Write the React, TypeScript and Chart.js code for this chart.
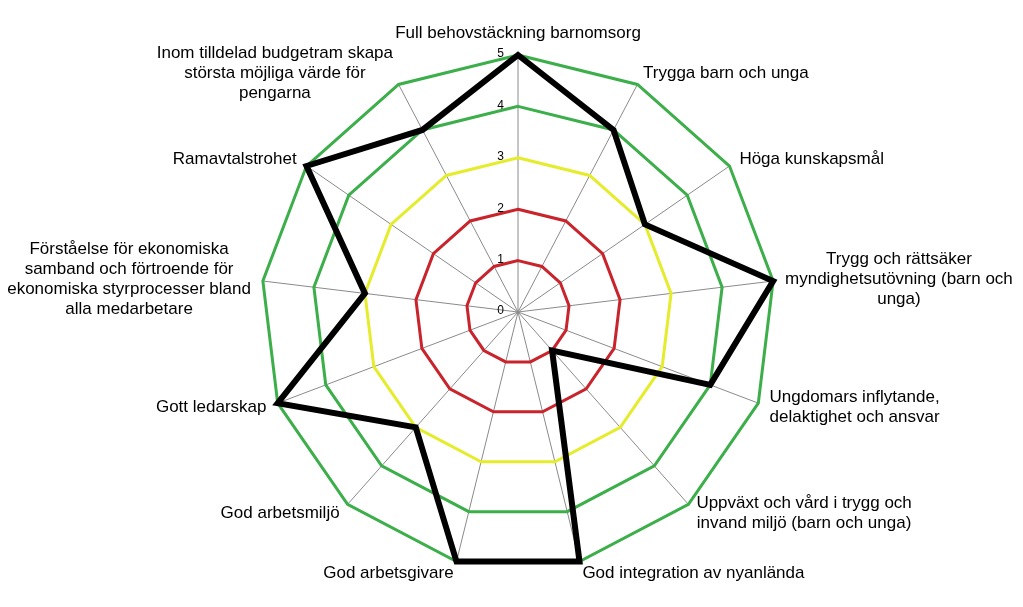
import React, { useEffect, useRef } from "react";
import { Chart, registerables } from "chart.js";

Chart.register(...registerables);

// Category labels (line breaks as in the reference)
const categories: string[][] = [
  ["Full behovstäckning barnomsorg"],
  ["Trygga barn och unga"],
  ["Höga kunskapsmål"],
  ["Trygg och rättsäker", "myndighetsutövning (barn och", "unga)"],
  ["Ungdomars inflytande,", "delaktighet och ansvar"],
  ["Uppväxt och vård i trygg och", "invand miljö (barn och unga)"],
  ["God integration av nyanlända"],
  ["God arbetsgivare"],
  ["God arbetsmiljö"],
  ["Gott ledarskap"],
  ["Förståelse för ekonomiska", "samband och förtroende för", "ekonomiska styrprocesser bland", "alla medarbetare"],
  ["Ramavtalstrohet"],
  ["Inom tilldelad budgetram skapa", "största möjliga värde för", "pengarna"],
];

// Outcome series (black line)
const outcome = [5, 4, 3, 5, 4, 1, 5, 5, 3, 5, 3, 5, 4];

// Reference rings
const red1 = [1, 1, 1, 1, 1, 1, 1, 1, 1, 1, 1, 1, 1];
const red2 = [2, 2, 2, 2, 2, 2, 2, 2, 2, 2, 2, 2, 2];
const yellow3 = [3, 3, 3, 3, 3, 3, 3, 3, 3, 3, 3, 3, 3];
const green4 = [4, 4, 4, 4, 4, 4, 4, 4, 4, 4, 4, 4, 4];
const green5 = [5, 5, 5, 5, 5, 5, 5, 5, 5, 5, 5, 5, 5];

const scaleMin = 0;
const scaleMax = 5;
const scaleStep = 1;

const RED = "#c9232b";
const YELLOW = "#e4ec2c";
const GREEN = "#3cae4a";
const FONT = '"Liberation Sans", Arial, sans-serif';

const labelPlugin = {
  id: "excelLabels",
  afterDatasetsDraw(chart: any) {
    const scale = chart.scales.r;
    const ctx = chart.ctx as CanvasRenderingContext2D;
    ctx.save();
    ctx.fillStyle = "#000";
    // tick labels, right aligned just left of the vertical axis
    ctx.font = `12px ${FONT}`;
    ctx.textAlign = "right";
    ctx.textBaseline = "middle";
    scale.ticks.forEach((t: any) => {
      const d = scale.getDistanceFromCenterForValue(t.value);
      ctx.fillText(String(t.label), scale.xCenter - 14, scale.yCenter - d - 1);
    });
    // category labels
    ctx.font = `17px ${FONT}`;
    ctx.textAlign = "center";
    const lh = 20;
    categories.forEach((lines, i) => {
      const p = scale.getPointPosition(i, scale.drawingArea + 12);
      const dx = p.x - scale.xCenter;
      const dy = p.y - scale.yCenter;
      const w = Math.max(...lines.map((l) => ctx.measureText(l).width));
      const h = lines.length * lh;
      let left: number;
      let top: number;
      if (Math.abs(dx) < 1) {
        left = p.x - w / 2;
        top = dy < 0 ? p.y - h : p.y;
      } else {
        left = dx > 0 ? p.x : p.x - w;
        top = p.y - h / 2;
      }
      lines.forEach((l, j) => ctx.fillText(l, left + w / 2, top + lh * (j + 0.5)));
    });
    ctx.restore();
  },
};

export default function App() {
  const ref = useRef<HTMLCanvasElement | null>(null);

  useEffect(() => {
    if (!ref.current) return;
    const ring = (data: number[], color: string) => ({
      label: String(data[0]),
      data,
      borderColor: color,
      backgroundColor: "transparent",
      borderWidth: 3,
      fill: false,
      pointRadius: 0,
      pointHoverRadius: 0,
    });
    const chart = new Chart(ref.current, {
      type: "radar",
      data: {
        labels: categories.map((c) => c.join(" ")),
        datasets: [
          {
            label: "Utfall",
            data: outcome,
            borderColor: "#000000",
            backgroundColor: "transparent",
            borderWidth: 6,
            fill: false,
            pointRadius: 0,
            pointHoverRadius: 0,
          },
          ring(green5, GREEN),
          ring(green4, GREEN),
          ring(yellow3, YELLOW),
          ring(red2, RED),
          ring(red1, RED),
        ],
      },
      options: {
        responsive: false,
        devicePixelRatio: 1,
        animation: false,
        layout: { padding: { left: 13, right: 0, top: 55, bottom: 38 } },
        plugins: {
          legend: { display: false },
          tooltip: { enabled: false },
        },
        elements: { line: { tension: 0, borderJoinStyle: "miter" } },
        scales: {
          r: {
            min: scaleMin,
            max: scaleMax,
            ticks: { display: false, stepSize: scaleStep },
            grid: { display: false },
            angleLines: { display: true, color: "#8a8a8a", lineWidth: 1 },
            pointLabels: { display: false },
          },
        },
      },
      plugins: [labelPlugin],
    });
    return () => chart.destroy();
  }, []);

  return (
    <div
      style={{
        position: "fixed",
        left: 0,
        top: 0,
        width: 1023,
        height: 607,
        background: "#ffffff",
      }}
    >
      <canvas ref={ref} width={1023} height={607} style={{ display: "block" }} />
    </div>
  );
}
